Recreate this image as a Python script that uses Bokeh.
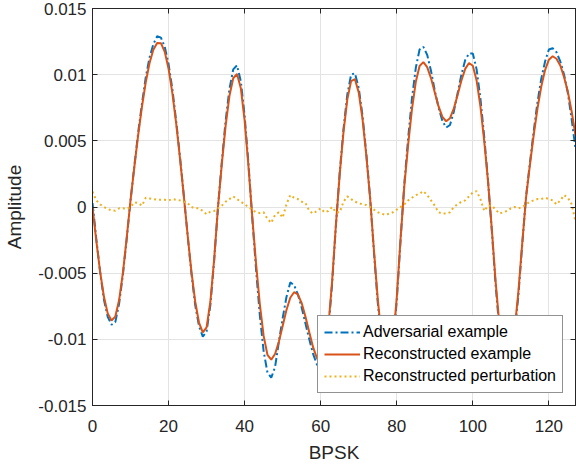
from bokeh.plotting import figure
from bokeh.models import Range1d, FixedTicker, LinearAxis, CustomJSTickFormatter, Legend
from bokeh.embed import file_html
from bokeh.resources import INLINE

sample_index = list(range(128))

adversarial = [
    0.0003, -0.0024, -0.0049, -0.0070, -0.0083, -0.0089, -0.0087, -0.0073, -0.0051, -0.0024,
    0.0005, 0.0031, 0.0056, 0.0078, 0.0098, 0.0113, 0.0123, 0.0129, 0.0128, 0.0121,
    0.0108, 0.0089, 0.0065, 0.0038, 0.0009, -0.0021, -0.0050, -0.0074, -0.0090, -0.0098,
    -0.0094, -0.0074, -0.0040, 0.0000, 0.0034, 0.0065, 0.0089, 0.0104, 0.0107, 0.0095,
    0.0069, 0.0033, -0.0008, -0.0047, -0.0082, -0.0109, -0.0125, -0.0129, -0.0121, -0.0102,
    -0.0084, -0.0068, -0.0057, -0.0059, -0.0066, -0.0076, -0.0088, -0.0100, -0.0111, -0.0119,
    -0.0122, -0.0117, -0.0094, -0.0058, -0.0014, 0.0026, 0.0059, 0.0085, 0.0100, 0.0101,
    0.0090, 0.0069, 0.0040, 0.0007, -0.0034, -0.0072, -0.0101, -0.0119, -0.0121, -0.0105,
    -0.0071, -0.0025, 0.0018, 0.0052, 0.0082, 0.0105, 0.0119, 0.0121, 0.0115, 0.0103,
    0.0088, 0.0075, 0.0065, 0.0060, 0.0062, 0.0072, 0.0086, 0.0100, 0.0111, 0.0116,
    0.0116, 0.0104, 0.0082, 0.0053, 0.0020, -0.0018, -0.0059, -0.0093, -0.0115, -0.0122,
    -0.0116, -0.0096, -0.0066, -0.0028, 0.0008, 0.0033, 0.0057, 0.0079, 0.0097, 0.0110,
    0.0119, 0.0120, 0.0117, 0.0110, 0.0100, 0.0086, 0.0066, 0.0044,
]

reconstructed = [
    0.0000, -0.00256, -0.00488, -0.00677, -0.00804, -0.00858, -0.00828, -0.00703, -0.00496, -0.00231,
    0.00051, 0.00302, 0.00541, 0.00757, 0.00942, 0.01088, 0.01189, 0.01240, 0.01238, 0.01172,
    0.01044, 0.00861, 0.00632, 0.00369, 0.00086, -0.00208, -0.00485, -0.00714, -0.00873, -0.00948,
    -0.00910, -0.00714, -0.00392, 0.00000, 0.00324, 0.00613, 0.00838, 0.00973, 0.01005, 0.00898,
    0.00654, 0.00311, -0.00072, -0.00425, -0.00735, -0.00974, -0.01117, -0.01153, -0.01111, -0.01019,
    -0.00899, -0.00778, -0.00686, -0.00644, -0.00660, -0.00726, -0.00829, -0.00947, -0.01059, -0.01142,
    -0.01179, -0.01125, -0.00910, -0.00563, -0.00136, 0.00247, 0.00567, 0.00813, 0.00951, 0.00966,
    0.00866, 0.00665, 0.00388, 0.00066, -0.00325, -0.00694, -0.00979, -0.01145, -0.01171, -0.01014,
    -0.00686, -0.00242, 0.00162, 0.00471, 0.00740, 0.00944, 0.01065, 0.01095, 0.01057, 0.00974,
    0.00866, 0.00760, 0.00681, 0.00648, 0.00671, 0.00743, 0.00847, 0.00956, 0.01044, 0.01088,
    0.01067, 0.00955, 0.00760, 0.00498, 0.00193, -0.00168, -0.00565, -0.00892, -0.01106, -0.01180,
    -0.01115, -0.00926, -0.00635, -0.00273, 0.00073, 0.00314, 0.00541, 0.00743, 0.00910, 0.01035,
    0.01113, 0.01139, 0.01120, 0.01070, 0.00980, 0.00870, 0.00720, 0.00540,
]

perturbation = [
    0.00116, 0.0005, 0.0002, 0.0000, -0.00015, -0.00025, -0.00028, -0.0001, -0.0001, -0.00015,
    0.0000, 0.00035, 0.0003, 0.0001, 0.0007, 0.00065, 0.0006, 0.00055, 0.00055, 0.00055,
    0.0005, 0.0006, 0.00055, 0.0005, 0.0004, 0.0003, 0.0000, -0.0001, -0.0001, -0.0003,
    -0.00055, -0.00035, -0.0003, -0.0001, 0.0001, 0.0004, 0.0006, 0.0008, 0.0006, 0.0004,
    0.0002, 0.0000, -0.0002, -0.0004, -0.00045, -0.0004, -0.0009, -0.0012, -0.0006, -0.0004,
    -0.0008, 0.0002, 0.0009, 0.0007, 0.0006, 0.0004, 0.0003, -0.0003, -0.0005, -0.0003,
    -0.0001, -0.0004, -0.0003, 0.0000, -0.0004, -0.0004, 0.0004, 0.0008, 0.0006, 0.0004,
    0.0003, 0.0002, 0.00015, 0.0000, -0.0002, -0.0004, -0.0005, -0.0006, -0.0005, -0.0004,
    -0.0002, 0.0000, 0.0002, 0.0005, 0.0007, 0.0009, 0.0010, 0.0012, 0.0009, 0.0005,
    0.0001, -0.0004, -0.0005, -0.0005, -0.0004, 0.0000, 0.0002, 0.0004, 0.0005, 0.0008,
    0.0011, 0.0012, 0.0006, -0.0003, 0.0001, 0.0001, -0.0002, -0.0005, -0.0004, -0.0003,
    -0.0001, 0.0000, -0.0001, 0.0000, 0.0002, 0.0004, 0.0005, 0.0006, 0.0006, 0.0007,
    0.0006, 0.0005, 0.0002, 0.0005, 0.0009, 0.0007, 0.0002, -0.0011,
]

x_ticks = [0, 20, 40, 60, 80, 100, 120]
y_ticks = [-0.015, -0.01, -0.005, 0, 0.005, 0.01, 0.015]
y_tick_labels = ["-0.015", "-0.01", "-0.005", "0", "0.005", "0.01", "0.015"]

series_names = ["Adversarial example", "Reconstructed example", "Reconstructed perturbation"]

FONT = "Liberation Sans"
AX = "#262626"

p = figure(width=576, height=468, output_backend="svg", toolbar_location=None,
           x_range=Range1d(0, 127), y_range=Range1d(-0.015, 0.015),
           min_border_left=92, min_border_right=1, min_border_top=8, min_border_bottom=63)
p.background_fill_color = "white"
p.outline_line_color = AX
p.outline_line_width = 1

# Lines
r1 = p.line(sample_index, adversarial, line_color="#0072BD", line_width=2, line_dash="8 3 2 3")
r2 = p.line(sample_index, reconstructed, line_color="#D95319", line_width=2)
r3 = p.line(sample_index, perturbation, line_color="#EDB120", line_width=2, line_dash="2 3")

# Axes
def style_axis(ax):
    ax.axis_line_color = AX
    ax.major_tick_line_color = AX
    ax.major_tick_in = 5
    ax.major_tick_out = 0
    ax.minor_tick_in = 0
    ax.minor_tick_out = 0
    ax.minor_tick_line_color = None
    ax.major_label_text_font = FONT
    ax.major_label_text_font_size = "17px"
    ax.major_label_text_color = AX
    ax.axis_label_text_font = FONT
    ax.axis_label_text_font_size = "19px"
    ax.axis_label_text_font_style = "normal"
    ax.axis_label_text_color = AX

xa = p.xaxis[0]
ya = p.yaxis[0]
style_axis(xa)
style_axis(ya)
xa.ticker = FixedTicker(ticks=x_ticks)
ya.ticker = FixedTicker(ticks=y_ticks)
ya.major_label_overrides = {t: l for t, l in zip(y_ticks, y_tick_labels)}
xa.axis_label = "BPSK"
ya.axis_label = "Amplitude"
xa.major_label_standoff = 14
ya.major_label_standoff = 6
xa.axis_label_standoff = 7
ya.axis_label_standoff = 10

blank = CustomJSTickFormatter(code="return '';")
top_ax = LinearAxis(ticker=FixedTicker(ticks=x_ticks), formatter=blank)
right_ax = LinearAxis(ticker=FixedTicker(ticks=y_ticks), formatter=blank)
for ax in (top_ax, right_ax):
    style_axis(ax)
    ax.major_label_standoff = 0
    ax.axis_label_standoff = 0
    ax.major_label_text_font_size = "1px"
p.add_layout(top_ax, "above")
p.add_layout(right_ax, "right")

# Grid
for g in (p.xgrid[0], p.ygrid[0]):
    g.grid_line_color = "#e3e3e3"
    g.grid_line_width = 1
p.xgrid[0].ticker = FixedTicker(ticks=x_ticks)
p.ygrid[0].ticker = FixedTicker(ticks=y_ticks)

legend = Legend(items=[(series_names[0], [r1]), (series_names[1], [r2]), (series_names[2], [r3])],
                location="bottom_right")
legend.label_text_font = FONT
legend.label_text_font_size = "16px"
legend.label_text_color = "#000000"
legend.border_line_color = AX
legend.border_line_width = 1
legend.background_fill_alpha = 1
legend.glyph_width = 36
legend.glyph_height = 20
legend.label_height = 20
legend.label_standoff = 3
legend.spacing = 2
legend.padding = 6
legend.margin = 12
p.add_layout(legend, "center")

open("out.html", "w").write(file_html(p, INLINE))
